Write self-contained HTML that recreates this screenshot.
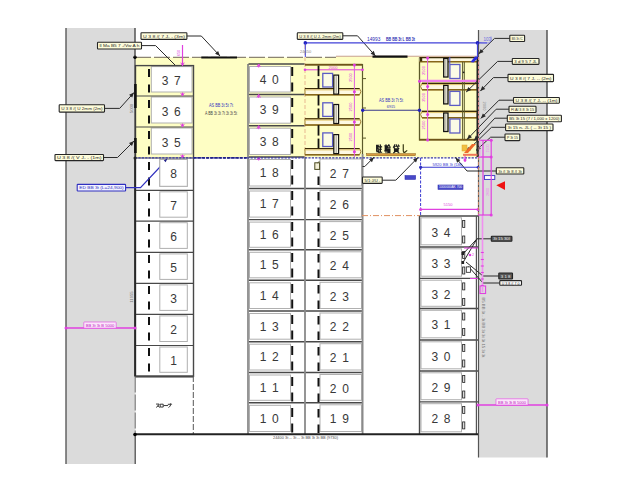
<!DOCTYPE html>
<html><head><meta charset="utf-8"><style>
html,body{margin:0;padding:0;background:#fff;overflow:hidden}
svg{display:block}
text{font-family:"Liberation Sans", sans-serif}
</style></head><body>
<svg width="640" height="498" viewBox="0 0 640 498" font-family='"Liberation Sans", sans-serif'><rect x="0.00" y="0.00" width="640.00" height="498.00" fill="#fff" stroke="none" stroke-width="1" /><rect x="66.00" y="28.00" width="69.50" height="436.00" fill="#dbdbdb" stroke="none" stroke-width="1" /><rect x="478.50" y="30.00" width="68.50" height="427.50" fill="#dbdbdb" stroke="none" stroke-width="1" /><line x1="66.00" y1="28.00" x2="66.00" y2="464.00" stroke="#5a5a5a" stroke-width="1.4" /><line x1="547.00" y1="30.00" x2="547.00" y2="457.50" stroke="#4a4a4a" stroke-width="1.4" /><rect x="135.50" y="57.50" width="342.50" height="100.00" fill="#fefec4" stroke="none" stroke-width="1" /><rect x="336.00" y="56.50" width="142.00" height="1.50" fill="#fefec4" stroke="none" stroke-width="1" /><rect x="151.30" y="66.60" width="40.70" height="25.40" fill="#fff" stroke="#b0b0b0" stroke-width="1" /><text x="165.00" y="85.12" font-size="12" fill="#383838" text-anchor="middle" font-weight="normal" >3</text><text x="177.40" y="85.12" font-size="12" fill="#383838" text-anchor="middle" font-weight="normal" >7</text><rect x="151.30" y="97.00" width="40.70" height="26.00" fill="#fff" stroke="#b0b0b0" stroke-width="1" /><text x="165.00" y="115.82" font-size="12" fill="#383838" text-anchor="middle" font-weight="normal" >3</text><text x="177.40" y="115.82" font-size="12" fill="#383838" text-anchor="middle" font-weight="normal" >6</text><rect x="151.30" y="128.00" width="40.70" height="26.00" fill="#fff" stroke="#b0b0b0" stroke-width="1" /><text x="165.00" y="146.82" font-size="12" fill="#383838" text-anchor="middle" font-weight="normal" >3</text><text x="177.40" y="146.82" font-size="12" fill="#383838" text-anchor="middle" font-weight="normal" >5</text><rect x="159.80" y="159.50" width="27.50" height="26.80" fill="#fff" stroke="#b0b0b0" stroke-width="1" /><text x="173.60" y="178.47" font-size="12" fill="#383838" text-anchor="middle" font-weight="normal" >8</text><rect x="159.80" y="191.80" width="27.50" height="25.40" fill="#fff" stroke="#b0b0b0" stroke-width="1" /><text x="173.60" y="210.07" font-size="12" fill="#383838" text-anchor="middle" font-weight="normal" >7</text><rect x="159.80" y="222.70" width="27.50" height="25.70" fill="#fff" stroke="#b0b0b0" stroke-width="1" /><text x="173.60" y="241.12" font-size="12" fill="#383838" text-anchor="middle" font-weight="normal" >6</text><rect x="159.80" y="253.90" width="27.50" height="25.50" fill="#fff" stroke="#b0b0b0" stroke-width="1" /><text x="173.60" y="272.22" font-size="12" fill="#383838" text-anchor="middle" font-weight="normal" >5</text><rect x="159.80" y="284.90" width="27.50" height="25.50" fill="#fff" stroke="#b0b0b0" stroke-width="1" /><text x="173.60" y="303.22" font-size="12" fill="#383838" text-anchor="middle" font-weight="normal" >3</text><rect x="159.80" y="315.90" width="27.50" height="25.60" fill="#fff" stroke="#b0b0b0" stroke-width="1" /><text x="173.60" y="334.27" font-size="12" fill="#383838" text-anchor="middle" font-weight="normal" >2</text><rect x="159.80" y="347.00" width="27.50" height="25.30" fill="#fff" stroke="#b0b0b0" stroke-width="1" /><text x="173.60" y="365.22" font-size="12" fill="#383838" text-anchor="middle" font-weight="normal" >1</text><line x1="149" y1="69" x2="149" y2="376" stroke="#111" stroke-width="2" stroke-dasharray="8 7.5" stroke-dashoffset="0"/><line x1="135.50" y1="96.00" x2="193.50" y2="96.00" stroke="#484848" stroke-width="1.2" /><line x1="135.50" y1="127.00" x2="193.50" y2="127.00" stroke="#484848" stroke-width="1.2" /><line x1="135.50" y1="158.00" x2="193.50" y2="158.00" stroke="#484848" stroke-width="1.2" /><line x1="135.50" y1="190.30" x2="193.50" y2="190.30" stroke="#484848" stroke-width="1.2" /><line x1="135.50" y1="221.20" x2="193.50" y2="221.20" stroke="#484848" stroke-width="1.2" /><line x1="135.50" y1="252.40" x2="193.50" y2="252.40" stroke="#484848" stroke-width="1.2" /><line x1="135.50" y1="283.40" x2="193.50" y2="283.40" stroke="#484848" stroke-width="1.2" /><line x1="135.50" y1="314.40" x2="193.50" y2="314.40" stroke="#484848" stroke-width="1.2" /><line x1="135.50" y1="345.50" x2="193.50" y2="345.50" stroke="#484848" stroke-width="1.2" /><line x1="135.00" y1="376.40" x2="193.50" y2="376.40" stroke="#333" stroke-width="2" /><rect x="135.50" y="65.60" width="58.00" height="310.70" fill="none" stroke="#484848" stroke-width="1.4" /><line x1="135.00" y1="57.00" x2="135.00" y2="158.00" stroke="#333" stroke-width="1.1" /><line x1="135.00" y1="158.00" x2="135.00" y2="376.50" stroke="#222" stroke-width="1.7" /><line x1="135.20" y1="376.50" x2="135.20" y2="434.00" stroke="#777" stroke-width="1.1" stroke-dasharray="16 2"/><line x1="135.20" y1="434.00" x2="135.20" y2="464.00" stroke="#444" stroke-width="1.2" /><line x1="135.40" y1="84.00" x2="135.40" y2="108.00" stroke="#111" stroke-width="2.6" /><line x1="135.40" y1="138.00" x2="135.40" y2="153.00" stroke="#111" stroke-width="2.6" /><rect x="249.50" y="66.50" width="41.00" height="25.50" fill="#fff" stroke="#b0b0b0" stroke-width="1" /><text x="263.00" y="83.57" font-size="12" fill="#383838" text-anchor="middle" font-weight="normal" >4</text><text x="275.40" y="83.57" font-size="12" fill="#383838" text-anchor="middle" font-weight="normal" >0</text><rect x="249.50" y="97.00" width="41.00" height="26.20" fill="#fff" stroke="#b0b0b0" stroke-width="1" /><text x="263.00" y="114.42" font-size="12" fill="#383838" text-anchor="middle" font-weight="normal" >3</text><text x="275.40" y="114.42" font-size="12" fill="#383838" text-anchor="middle" font-weight="normal" >9</text><rect x="249.50" y="128.20" width="41.00" height="26.30" fill="#fff" stroke="#b0b0b0" stroke-width="1" /><text x="263.00" y="145.67" font-size="12" fill="#383838" text-anchor="middle" font-weight="normal" >3</text><text x="275.40" y="145.67" font-size="12" fill="#383838" text-anchor="middle" font-weight="normal" >8</text><rect x="249.50" y="159.50" width="41.00" height="26.50" fill="#fff" stroke="#b0b0b0" stroke-width="1" /><text x="263.00" y="177.07" font-size="12" fill="#383838" text-anchor="middle" font-weight="normal" >1</text><text x="275.40" y="177.07" font-size="12" fill="#383838" text-anchor="middle" font-weight="normal" >8</text><rect x="249.50" y="191.00" width="41.00" height="26.10" fill="#fff" stroke="#b0b0b0" stroke-width="1" /><text x="263.00" y="208.37" font-size="12" fill="#383838" text-anchor="middle" font-weight="normal" >1</text><text x="275.40" y="208.37" font-size="12" fill="#383838" text-anchor="middle" font-weight="normal" >7</text><rect x="249.50" y="222.10" width="41.00" height="25.20" fill="#fff" stroke="#b0b0b0" stroke-width="1" /><text x="263.00" y="239.02" font-size="12" fill="#383838" text-anchor="middle" font-weight="normal" >1</text><text x="275.40" y="239.02" font-size="12" fill="#383838" text-anchor="middle" font-weight="normal" >6</text><rect x="249.50" y="252.30" width="41.00" height="25.50" fill="#fff" stroke="#b0b0b0" stroke-width="1" /><text x="263.00" y="269.37" font-size="12" fill="#383838" text-anchor="middle" font-weight="normal" >1</text><text x="275.40" y="269.37" font-size="12" fill="#383838" text-anchor="middle" font-weight="normal" >5</text><rect x="249.50" y="282.80" width="41.00" height="25.70" fill="#fff" stroke="#b0b0b0" stroke-width="1" /><text x="263.00" y="299.97" font-size="12" fill="#383838" text-anchor="middle" font-weight="normal" >1</text><text x="275.40" y="299.97" font-size="12" fill="#383838" text-anchor="middle" font-weight="normal" >4</text><rect x="249.50" y="313.50" width="41.00" height="25.70" fill="#fff" stroke="#b0b0b0" stroke-width="1" /><text x="263.00" y="330.67" font-size="12" fill="#383838" text-anchor="middle" font-weight="normal" >1</text><text x="275.40" y="330.67" font-size="12" fill="#383838" text-anchor="middle" font-weight="normal" >3</text><rect x="249.50" y="344.20" width="41.00" height="25.80" fill="#fff" stroke="#b0b0b0" stroke-width="1" /><text x="263.00" y="361.42" font-size="12" fill="#383838" text-anchor="middle" font-weight="normal" >1</text><text x="275.40" y="361.42" font-size="12" fill="#383838" text-anchor="middle" font-weight="normal" >2</text><rect x="249.50" y="375.00" width="41.00" height="25.30" fill="#fff" stroke="#b0b0b0" stroke-width="1" /><text x="263.00" y="391.97" font-size="12" fill="#383838" text-anchor="middle" font-weight="normal" >1</text><text x="275.40" y="391.97" font-size="12" fill="#383838" text-anchor="middle" font-weight="normal" >1</text><rect x="249.50" y="405.30" width="41.00" height="26.20" fill="#fff" stroke="#b0b0b0" stroke-width="1" /><text x="263.00" y="422.72" font-size="12" fill="#383838" text-anchor="middle" font-weight="normal" >1</text><text x="275.40" y="422.72" font-size="12" fill="#383838" text-anchor="middle" font-weight="normal" >0</text><line x1="292.2" y1="67" x2="292.2" y2="434" stroke="#111" stroke-width="2" stroke-dasharray="9 6.5" stroke-dashoffset="0"/><line x1="248.50" y1="94.50" x2="305.00" y2="94.50" stroke="#484848" stroke-width="1.4" /><line x1="248.50" y1="125.70" x2="305.00" y2="125.70" stroke="#484848" stroke-width="1.4" /><line x1="248.50" y1="157.00" x2="305.00" y2="157.00" stroke="#484848" stroke-width="1.4" /><line x1="248.50" y1="188.50" x2="305.00" y2="188.50" stroke="#484848" stroke-width="1.4" /><line x1="248.50" y1="219.60" x2="305.00" y2="219.60" stroke="#484848" stroke-width="1.4" /><line x1="248.50" y1="249.80" x2="305.00" y2="249.80" stroke="#484848" stroke-width="1.4" /><line x1="248.50" y1="280.30" x2="305.00" y2="280.30" stroke="#484848" stroke-width="1.4" /><line x1="248.50" y1="311.00" x2="305.00" y2="311.00" stroke="#484848" stroke-width="1.4" /><line x1="248.50" y1="341.70" x2="305.00" y2="341.70" stroke="#484848" stroke-width="1.4" /><line x1="248.50" y1="372.50" x2="305.00" y2="372.50" stroke="#484848" stroke-width="1.4" /><line x1="248.50" y1="402.80" x2="305.00" y2="402.80" stroke="#484848" stroke-width="1.4" /><line x1="248.00" y1="64.00" x2="248.00" y2="434.00" stroke="#8a8a8a" stroke-width="1.8" /><line x1="248.50" y1="64.00" x2="305.00" y2="64.00" stroke="#484848" stroke-width="1.4" /><rect x="320.00" y="159.00" width="41.50" height="27.00" fill="#fff" stroke="#b0b0b0" stroke-width="1" /><text x="333.10" y="177.77" font-size="12" fill="#383838" text-anchor="middle" font-weight="normal" >2</text><text x="345.50" y="177.77" font-size="12" fill="#383838" text-anchor="middle" font-weight="normal" >7</text><rect x="320.00" y="190.50" width="41.50" height="26.60" fill="#fff" stroke="#b0b0b0" stroke-width="1" /><text x="333.10" y="209.07" font-size="12" fill="#383838" text-anchor="middle" font-weight="normal" >2</text><text x="345.50" y="209.07" font-size="12" fill="#383838" text-anchor="middle" font-weight="normal" >6</text><rect x="320.00" y="221.60" width="41.50" height="25.70" fill="#fff" stroke="#b0b0b0" stroke-width="1" /><text x="333.10" y="239.72" font-size="12" fill="#383838" text-anchor="middle" font-weight="normal" >2</text><text x="345.50" y="239.72" font-size="12" fill="#383838" text-anchor="middle" font-weight="normal" >5</text><rect x="320.00" y="251.80" width="41.50" height="26.00" fill="#fff" stroke="#b0b0b0" stroke-width="1" /><text x="333.10" y="270.07" font-size="12" fill="#383838" text-anchor="middle" font-weight="normal" >2</text><text x="345.50" y="270.07" font-size="12" fill="#383838" text-anchor="middle" font-weight="normal" >4</text><rect x="320.00" y="282.30" width="41.50" height="26.20" fill="#fff" stroke="#b0b0b0" stroke-width="1" /><text x="333.10" y="300.67" font-size="12" fill="#383838" text-anchor="middle" font-weight="normal" >2</text><text x="345.50" y="300.67" font-size="12" fill="#383838" text-anchor="middle" font-weight="normal" >3</text><rect x="320.00" y="313.00" width="41.50" height="26.20" fill="#fff" stroke="#b0b0b0" stroke-width="1" /><text x="333.10" y="331.37" font-size="12" fill="#383838" text-anchor="middle" font-weight="normal" >2</text><text x="345.50" y="331.37" font-size="12" fill="#383838" text-anchor="middle" font-weight="normal" >2</text><rect x="320.00" y="343.70" width="41.50" height="26.30" fill="#fff" stroke="#b0b0b0" stroke-width="1" /><text x="333.10" y="362.12" font-size="12" fill="#383838" text-anchor="middle" font-weight="normal" >2</text><text x="345.50" y="362.12" font-size="12" fill="#383838" text-anchor="middle" font-weight="normal" >1</text><rect x="320.00" y="374.50" width="41.50" height="25.80" fill="#fff" stroke="#b0b0b0" stroke-width="1" /><text x="333.10" y="392.67" font-size="12" fill="#383838" text-anchor="middle" font-weight="normal" >2</text><text x="345.50" y="392.67" font-size="12" fill="#383838" text-anchor="middle" font-weight="normal" >0</text><rect x="320.00" y="404.80" width="41.50" height="26.70" fill="#fff" stroke="#b0b0b0" stroke-width="1" /><text x="333.10" y="423.42" font-size="12" fill="#383838" text-anchor="middle" font-weight="normal" >1</text><text x="345.50" y="423.42" font-size="12" fill="#383838" text-anchor="middle" font-weight="normal" >9</text><line x1="318.5" y1="176.5" x2="318.5" y2="434" stroke="#111" stroke-width="2" stroke-dasharray="8.5 7" stroke-dashoffset="0"/><rect x="314.80" y="162.80" width="4.80" height="6.60" fill="#f4f0d8" stroke="#4a4a20" stroke-width="1" /><line x1="317.50" y1="162.80" x2="319.60" y2="161.40" stroke="#4a4a20" stroke-width="0.8" /><line x1="305.00" y1="188.50" x2="362.00" y2="188.50" stroke="#484848" stroke-width="1.4" /><line x1="305.00" y1="219.60" x2="362.00" y2="219.60" stroke="#484848" stroke-width="1.4" /><line x1="305.00" y1="249.80" x2="362.00" y2="249.80" stroke="#484848" stroke-width="1.4" /><line x1="305.00" y1="280.30" x2="362.00" y2="280.30" stroke="#484848" stroke-width="1.4" /><line x1="305.00" y1="311.00" x2="362.00" y2="311.00" stroke="#484848" stroke-width="1.4" /><line x1="305.00" y1="341.70" x2="362.00" y2="341.70" stroke="#484848" stroke-width="1.4" /><line x1="305.00" y1="372.50" x2="362.00" y2="372.50" stroke="#484848" stroke-width="1.4" /><line x1="305.00" y1="402.80" x2="362.00" y2="402.80" stroke="#484848" stroke-width="1.4" /><line x1="305.00" y1="157.00" x2="305.00" y2="434.00" stroke="#8a8a8a" stroke-width="1.8" /><line x1="362.60" y1="154.00" x2="362.60" y2="434.00" stroke="#8a8a8a" stroke-width="1.8" /><rect x="421.00" y="217.80" width="40.50" height="27.00" fill="#fff" stroke="#b0b0b0" stroke-width="1" /><text x="434.80" y="236.62" font-size="12" fill="#383838" text-anchor="middle" font-weight="normal" >3</text><text x="447.20" y="236.62" font-size="12" fill="#383838" text-anchor="middle" font-weight="normal" >4</text><rect x="462.60" y="220.50" width="2.20" height="7.00" fill="#ddd" stroke="#222" stroke-width="0.8" /><rect x="462.60" y="236.00" width="2.20" height="7.00" fill="#ddd" stroke="#222" stroke-width="0.8" /><rect x="421.00" y="248.80" width="40.50" height="27.40" fill="#fff" stroke="#b0b0b0" stroke-width="1" /><text x="434.80" y="267.82" font-size="12" fill="#383838" text-anchor="middle" font-weight="normal" >3</text><text x="447.20" y="267.82" font-size="12" fill="#383838" text-anchor="middle" font-weight="normal" >3</text><rect x="462.60" y="251.50" width="2.20" height="7.00" fill="#ddd" stroke="#222" stroke-width="0.8" /><rect x="462.60" y="267.00" width="2.20" height="7.00" fill="#ddd" stroke="#222" stroke-width="0.8" /><rect x="421.00" y="280.20" width="40.50" height="26.10" fill="#fff" stroke="#b0b0b0" stroke-width="1" /><text x="434.80" y="298.57" font-size="12" fill="#383838" text-anchor="middle" font-weight="normal" >3</text><text x="447.20" y="298.57" font-size="12" fill="#383838" text-anchor="middle" font-weight="normal" >2</text><rect x="462.60" y="282.90" width="2.20" height="7.00" fill="#ddd" stroke="#222" stroke-width="0.8" /><rect x="462.60" y="298.40" width="2.20" height="7.00" fill="#ddd" stroke="#222" stroke-width="0.8" /><rect x="421.00" y="310.30" width="40.50" height="27.50" fill="#fff" stroke="#b0b0b0" stroke-width="1" /><text x="434.80" y="329.37" font-size="12" fill="#383838" text-anchor="middle" font-weight="normal" >3</text><text x="447.20" y="329.37" font-size="12" fill="#383838" text-anchor="middle" font-weight="normal" >1</text><rect x="462.60" y="313.00" width="2.20" height="7.00" fill="#ddd" stroke="#222" stroke-width="0.8" /><rect x="462.60" y="328.50" width="2.20" height="7.00" fill="#ddd" stroke="#222" stroke-width="0.8" /><rect x="421.00" y="341.80" width="40.50" height="27.00" fill="#fff" stroke="#b0b0b0" stroke-width="1" /><text x="434.80" y="360.62" font-size="12" fill="#383838" text-anchor="middle" font-weight="normal" >3</text><text x="447.20" y="360.62" font-size="12" fill="#383838" text-anchor="middle" font-weight="normal" >0</text><rect x="462.60" y="344.50" width="2.20" height="7.00" fill="#ddd" stroke="#222" stroke-width="0.8" /><rect x="462.60" y="360.00" width="2.20" height="7.00" fill="#ddd" stroke="#222" stroke-width="0.8" /><rect x="421.00" y="372.80" width="40.50" height="26.90" fill="#fff" stroke="#b0b0b0" stroke-width="1" /><text x="434.80" y="391.57" font-size="12" fill="#383838" text-anchor="middle" font-weight="normal" >2</text><text x="447.20" y="391.57" font-size="12" fill="#383838" text-anchor="middle" font-weight="normal" >9</text><rect x="462.60" y="375.50" width="2.20" height="7.00" fill="#ddd" stroke="#222" stroke-width="0.8" /><rect x="462.60" y="391.00" width="2.20" height="7.00" fill="#ddd" stroke="#222" stroke-width="0.8" /><rect x="421.00" y="403.70" width="40.50" height="28.10" fill="#fff" stroke="#b0b0b0" stroke-width="1" /><text x="434.80" y="423.07" font-size="12" fill="#383838" text-anchor="middle" font-weight="normal" >2</text><text x="447.20" y="423.07" font-size="12" fill="#383838" text-anchor="middle" font-weight="normal" >8</text><rect x="462.60" y="406.40" width="2.20" height="7.00" fill="#ddd" stroke="#222" stroke-width="0.8" /><rect x="462.60" y="421.90" width="2.20" height="7.00" fill="#ddd" stroke="#222" stroke-width="0.8" /><line x1="419.50" y1="247.00" x2="478.00" y2="247.00" stroke="#484848" stroke-width="1.4" /><line x1="419.50" y1="278.40" x2="478.00" y2="278.40" stroke="#484848" stroke-width="1.4" /><line x1="419.50" y1="308.50" x2="478.00" y2="308.50" stroke="#484848" stroke-width="1.4" /><line x1="419.50" y1="340.00" x2="478.00" y2="340.00" stroke="#484848" stroke-width="1.4" /><line x1="419.50" y1="371.00" x2="478.00" y2="371.00" stroke="#484848" stroke-width="1.4" /><line x1="419.50" y1="401.90" x2="478.00" y2="401.90" stroke="#484848" stroke-width="1.4" /><line x1="419.50" y1="216.00" x2="419.50" y2="434.00" stroke="#484848" stroke-width="1.4" /><line x1="419.50" y1="216.00" x2="478.00" y2="216.00" stroke="#484848" stroke-width="1.6" /><line x1="476.40" y1="216.00" x2="476.40" y2="434.00" stroke="#555" stroke-width="1.2" /><line x1="478.50" y1="30.00" x2="478.50" y2="457.50" stroke="#555" stroke-width="1.2" /><line x1="135.00" y1="57.30" x2="336.00" y2="57.30" stroke="#8c8472" stroke-width="1.2" stroke-dasharray="16 3"/><line x1="336.00" y1="56.20" x2="478.00" y2="56.20" stroke="#c8a08a" stroke-width="1.1" /><line x1="201.30" y1="57.50" x2="237.00" y2="57.50" stroke="#111" stroke-width="2.2" /><line x1="372.50" y1="56.70" x2="407.50" y2="56.70" stroke="#111" stroke-width="2.2" /><circle cx="135.00" cy="57.30" r="1.7" fill="#000"/><line x1="135.00" y1="28.00" x2="135.00" y2="57.00" stroke="#333" stroke-width="1.2" /><line x1="182.50" y1="45.00" x2="182.50" y2="65.60" stroke="#e040e0" stroke-width="1.2" /><text x="0" y="0" font-size="4" fill="#e040e0" transform="translate(180,53) rotate(-90)" text-anchor="middle">650</text><path d="M180.8,62.599999999999994 L182.5,65.6 L184.2,62.599999999999994" stroke="#e040e0" stroke-width="1" fill="none"/><line x1="182.50" y1="62.10" x2="182.50" y2="65.60" stroke="#e040e0" stroke-width="1" /><path d="M180.8,93 L182.5,96 L184.2,93" stroke="#e040e0" stroke-width="1" fill="none"/><line x1="182.50" y1="92.50" x2="182.50" y2="96.00" stroke="#e040e0" stroke-width="1" /><path d="M180.8,124 L182.5,127 L184.2,124" stroke="#e040e0" stroke-width="1" fill="none"/><line x1="182.50" y1="123.50" x2="182.50" y2="127.00" stroke="#e040e0" stroke-width="1" /><path d="M180.8,155 L182.5,158 L184.2,155" stroke="#e040e0" stroke-width="1" fill="none"/><line x1="182.50" y1="154.50" x2="182.50" y2="158.00" stroke="#e040e0" stroke-width="1" /><path d="M257,67 L258.7,64 L260.4,67" stroke="#e040e0" stroke-width="1" fill="none"/><line x1="258.70" y1="64.00" x2="258.70" y2="67.50" stroke="#e040e0" stroke-width="1" /><path d="M257,97.5 L258.7,94.5 L260.4,97.5" stroke="#e040e0" stroke-width="1" fill="none"/><line x1="258.70" y1="94.50" x2="258.70" y2="98.00" stroke="#e040e0" stroke-width="1" /><path d="M257,128.7 L258.7,125.7 L260.4,128.7" stroke="#e040e0" stroke-width="1" fill="none"/><line x1="258.70" y1="125.70" x2="258.70" y2="129.20" stroke="#e040e0" stroke-width="1" /><path d="M257,160 L258.7,157 L260.4,160" stroke="#e040e0" stroke-width="1" fill="none"/><line x1="258.70" y1="157.00" x2="258.70" y2="160.50" stroke="#e040e0" stroke-width="1" /><line x1="305.00" y1="45.00" x2="305.00" y2="157.00" stroke="#e8b890" stroke-width="1" stroke-dasharray="4 2"/><rect x="305.00" y="63.80" width="57.50" height="1.90" fill="#6e5418" stroke="none" stroke-width="1" /><path d="M305,88.5 L359.5,88.5 Q362.3,91.65 359.5,94.8 L305,94.8 Z" fill="#fdf9e2" stroke="#a08030" stroke-width="1"/><line x1="305.00" y1="88.60" x2="359.50" y2="88.60" stroke="#3a2c08" stroke-width="1.3" /><line x1="305.00" y1="89.90" x2="360.00" y2="89.90" stroke="#e2c468" stroke-width="1" /><line x1="305.00" y1="94.80" x2="359.50" y2="94.80" stroke="#86661a" stroke-width="1.4" /><path d="M305,118.7 L359.5,118.7 Q362.3,121.85000000000001 359.5,125.0 L305,125.0 Z" fill="#fdf9e2" stroke="#a08030" stroke-width="1"/><line x1="305.00" y1="118.80" x2="359.50" y2="118.80" stroke="#3a2c08" stroke-width="1.3" /><line x1="305.00" y1="120.10" x2="360.00" y2="120.10" stroke="#e2c468" stroke-width="1" /><line x1="305.00" y1="125.00" x2="359.50" y2="125.00" stroke="#86661a" stroke-width="1.4" /><path d="M305,148.5 L359.5,148.5 Q362.3,151.65 359.5,154.8 L305,154.8 Z" fill="#fdf9e2" stroke="#a08030" stroke-width="1"/><line x1="305.00" y1="148.60" x2="359.50" y2="148.60" stroke="#3a2c08" stroke-width="1.3" /><line x1="305.00" y1="149.90" x2="360.00" y2="149.90" stroke="#e2c468" stroke-width="1" /><line x1="305.00" y1="154.80" x2="359.50" y2="154.80" stroke="#86661a" stroke-width="1.4" /><line x1="362.50" y1="64.00" x2="362.50" y2="154.00" stroke="#5c5a2a" stroke-width="1.2" /><line x1="305.00" y1="69.80" x2="362.50" y2="69.80" stroke="#e040e0" stroke-width="1" /><circle cx="305.00" cy="69.80" r="1.3" fill="#e040e0"/><circle cx="362.50" cy="69.80" r="1.3" fill="#e040e0"/><text x="333" y="68.5" font-size="4" fill="#e040e0" text-anchor="middle">2000</text><line x1="354.40" y1="64.00" x2="354.40" y2="157.00" stroke="#e060e0" stroke-width="1" /><circle cx="354.40" cy="65.00" r="1.5" fill="#e040e0"/><circle cx="354.40" cy="91.70" r="1.5" fill="#e040e0"/><circle cx="354.40" cy="121.90" r="1.5" fill="#e040e0"/><circle cx="354.40" cy="151.70" r="1.5" fill="#e040e0"/><line x1="318.50" y1="65.60" x2="318.50" y2="76.10" stroke="#111" stroke-width="1.8" /><line x1="318.50" y1="79.10" x2="318.50" y2="88.60" stroke="#111" stroke-width="1.8" /><rect x="322.80" y="73.40" width="9.80" height="13.60" fill="#fbfbe6" stroke="#5c5cc4" stroke-width="1.3" /><rect x="333.80" y="75.10" width="4.80" height="19.00" fill="#f8f6e0" stroke="#111" stroke-width="1.2" /><line x1="336.20" y1="75.60" x2="336.20" y2="93.60" stroke="#666" stroke-width="0.6" /><text x="0" y="0" font-size="4" fill="#e040e0" transform="translate(351.5,77.6) rotate(-90)" text-anchor="middle">2500</text><line x1="362.50" y1="78.60" x2="366.00" y2="78.60" stroke="#5c5a2a" stroke-width="1" /><line x1="318.50" y1="95.00" x2="318.50" y2="105.50" stroke="#111" stroke-width="1.8" /><line x1="318.50" y1="108.50" x2="318.50" y2="118.00" stroke="#111" stroke-width="1.8" /><rect x="322.80" y="102.80" width="9.80" height="13.60" fill="#fbfbe6" stroke="#5c5cc4" stroke-width="1.3" /><rect x="333.80" y="104.50" width="4.80" height="19.00" fill="#f8f6e0" stroke="#111" stroke-width="1.2" /><line x1="336.20" y1="105.00" x2="336.20" y2="123.00" stroke="#666" stroke-width="0.6" /><text x="0" y="0" font-size="4" fill="#e040e0" transform="translate(351.5,107) rotate(-90)" text-anchor="middle">2500</text><line x1="362.50" y1="108.00" x2="366.00" y2="108.00" stroke="#5c5a2a" stroke-width="1" /><line x1="318.50" y1="125.10" x2="318.50" y2="135.60" stroke="#111" stroke-width="1.8" /><line x1="318.50" y1="138.60" x2="318.50" y2="148.10" stroke="#111" stroke-width="1.8" /><rect x="322.80" y="132.90" width="9.80" height="13.60" fill="#fbfbe6" stroke="#5c5cc4" stroke-width="1.3" /><rect x="333.80" y="134.60" width="4.80" height="19.00" fill="#f8f6e0" stroke="#111" stroke-width="1.2" /><line x1="336.20" y1="135.10" x2="336.20" y2="153.10" stroke="#666" stroke-width="0.6" /><text x="0" y="0" font-size="4" fill="#e040e0" transform="translate(351.5,137.1) rotate(-90)" text-anchor="middle">2500</text><line x1="362.50" y1="138.10" x2="366.00" y2="138.10" stroke="#5c5a2a" stroke-width="1" /><line x1="419.50" y1="57.50" x2="419.50" y2="140.60" stroke="#5c5a2a" stroke-width="1.3" /><path d="M422.0,83.2 L477,83.2 L477,89.8 L422.0,89.8 Q419.2,86.5 422.0,83.2 Z" fill="#fdf9e2" stroke="#a08030" stroke-width="1"/><line x1="422.00" y1="83.30" x2="477.00" y2="83.30" stroke="#3a2c08" stroke-width="1.3" /><line x1="421.50" y1="84.60" x2="477.00" y2="84.60" stroke="#e2c468" stroke-width="1" /><line x1="422.00" y1="89.80" x2="477.00" y2="89.80" stroke="#86661a" stroke-width="1.4" /><path d="M422.0,111.2 L477,111.2 L477,117.8 L422.0,117.8 Q419.2,114.5 422.0,111.2 Z" fill="#fdf9e2" stroke="#a08030" stroke-width="1"/><line x1="422.00" y1="111.30" x2="477.00" y2="111.30" stroke="#3a2c08" stroke-width="1.3" /><line x1="421.50" y1="112.60" x2="477.00" y2="112.60" stroke="#e2c468" stroke-width="1" /><line x1="422.00" y1="117.80" x2="477.00" y2="117.80" stroke="#86661a" stroke-width="1.4" /><rect x="419.50" y="57.60" width="57.50" height="4.30" fill="#fdf9e2" stroke="none" stroke-width="1" /><line x1="419.50" y1="57.70" x2="477.00" y2="57.70" stroke="#3a2c08" stroke-width="1.2" /><line x1="419.50" y1="61.70" x2="477.00" y2="61.70" stroke="#86661a" stroke-width="1.5" /><rect x="419.80" y="58.00" width="2.40" height="3.40" fill="#3a2c08" stroke="none" stroke-width="1" /><rect x="419.50" y="138.80" width="58.50" height="1.90" fill="#6e5418" stroke="none" stroke-width="1" /><line x1="462.60" y1="62.00" x2="462.60" y2="139.00" stroke="#5c5a2a" stroke-width="1" /><line x1="464.30" y1="62.00" x2="464.30" y2="139.00" stroke="#5c5a2a" stroke-width="1" /><line x1="427.60" y1="57.00" x2="427.60" y2="140.00" stroke="#e060e0" stroke-width="1" /><circle cx="427.60" cy="58.00" r="1.5" fill="#e040e0"/><circle cx="427.60" cy="86.50" r="1.5" fill="#e040e0"/><circle cx="427.60" cy="114.50" r="1.5" fill="#e040e0"/><circle cx="427.60" cy="140.00" r="1.5" fill="#e040e0"/><line x1="419.50" y1="80.90" x2="478.00" y2="80.90" stroke="#ee80ee" stroke-width="2.4" /><circle cx="419.50" cy="81.20" r="1.5" fill="#e040e0"/><circle cx="478.00" cy="81.20" r="1.5" fill="#e040e0"/><rect x="443.70" y="58.50" width="4.30" height="18.50" fill="#f8f6e0" stroke="#111" stroke-width="1.3" /><line x1="445.80" y1="59.50" x2="445.80" y2="76.00" stroke="#777" stroke-width="0.6" /><rect x="449.90" y="64.50" width="10.00" height="14.00" fill="#fbfbe6" stroke="#5c5cc4" stroke-width="1.3" /><text x="0" y="0" font-size="4" fill="#e040e0" transform="translate(424.5,70.5) rotate(-90)" text-anchor="middle">2500</text><rect x="443.70" y="85.40" width="4.30" height="18.50" fill="#f8f6e0" stroke="#111" stroke-width="1.3" /><line x1="445.80" y1="86.40" x2="445.80" y2="102.90" stroke="#777" stroke-width="0.6" /><rect x="449.90" y="91.40" width="10.00" height="14.00" fill="#fbfbe6" stroke="#5c5cc4" stroke-width="1.3" /><text x="0" y="0" font-size="4" fill="#e040e0" transform="translate(424.5,97.4) rotate(-90)" text-anchor="middle">2500</text><rect x="443.70" y="113.00" width="4.30" height="18.50" fill="#f8f6e0" stroke="#111" stroke-width="1.3" /><line x1="445.80" y1="114.00" x2="445.80" y2="130.50" stroke="#777" stroke-width="0.6" /><rect x="449.90" y="119.00" width="10.00" height="14.00" fill="#fbfbe6" stroke="#5c5cc4" stroke-width="1.3" /><text x="0" y="0" font-size="4" fill="#e040e0" transform="translate(424.5,125) rotate(-90)" text-anchor="middle">2500</text><line x1="477.30" y1="57.00" x2="477.30" y2="157.00" stroke="#222" stroke-width="1.6" /><rect x="366.50" y="153.70" width="49.00" height="2.00" fill="#d89a40" stroke="#8a5a10" stroke-width="0.5" /><g transform="translate(376,144.8) scale(0.5600,0.8000)"><path d="M1,0.5 V7 M1,0.5 H5 M3,0.5 V5.5 M1,2.2 H5 M1,3.9 H5 M1,5.6 H5.3 V9.5 L4.3,9.2 M1.4,7.6 V8.6 M2.7,7.6 V8.6 M4,7.6 V8.6 M7.8,0.2 L8.3,1.4 M6,2.6 H10 M6.5,5.6 H9.6 M6,9.3 H10 M8,2.6 V9.3" fill="none" stroke="#1c1c1c" stroke-width="1.05" vector-effect="non-scaling-stroke" stroke-linecap="square"/></g><g transform="translate(384.6,144.8) scale(0.5600,0.8000)"><path d="M0.5,1.2 H4.5 M1,2.6 H4 V6 H1 Z M1,4.3 H4 M0.3,7.6 H4.7 M2.5,0 V10 M7.6,0 L5,3.2 M7.6,0 L10,3.2 M6,3.8 H9.2 M5.6,5.2 H9.6 V9.8 M5.6,5.2 V10 M6.9,5.2 V9.6 M8.3,5.2 V9.6 M5.6,7.4 H9.6" fill="none" stroke="#1c1c1c" stroke-width="1.05" vector-effect="non-scaling-stroke" stroke-linecap="square"/></g><g transform="translate(393.2,144.8) scale(0.6200,0.8000)"><path d="M2.6,0 L0.4,3.2 M1.8,1.6 V4.6 M3.4,1.9 H9.6 M5.2,0 Q6,3 9,4.6 M8.4,0.2 L9,1 M2,4.9 H8 V8.4 H2 Z M2,6.1 H8 M2,7.3 H8 M3.6,8.6 L0.8,10 M6.4,8.6 L9.2,10" fill="none" stroke="#1c1c1c" stroke-width="1.05" vector-effect="non-scaling-stroke" stroke-linecap="square"/></g><g transform="translate(401.6,144.8) scale(0.5600,0.8000)"><path d="M3,0 V7.2 Q3,9.8 5.6,9.4 L9.2,7.4" fill="none" stroke="#3a3a14" stroke-width="1.2" vector-effect="non-scaling-stroke" stroke-linecap="square"/></g><line x1="135.00" y1="157.80" x2="478.00" y2="157.80" stroke="#3838a4" stroke-width="1.2" stroke-dasharray="2.2 1.2"/><line x1="193.50" y1="157.80" x2="248.00" y2="157.80" stroke="#222288" stroke-width="1.8" stroke-dasharray="3 1.2"/><circle cx="135.00" cy="158.00" r="1.5" fill="#222"/><rect x="97.50" y="42.30" width="44.00" height="6.70" fill="#fdfcda" stroke="#262626" stroke-width="1.1" rx="0.6"/><text x="99.50" y="47.25" font-size="4.2" fill="#2a2a2a" text-anchor="start" font-weight="normal" textLength="40.0" lengthAdjust="spacingAndGlyphs">ll Ma B5 7 -/Vw A h</text><polyline points="141.50,45.60 155.60,45.60 175.00,65.00" stroke="#2a2a2a" stroke-width="1" fill="none" /><rect x="141.00" y="32.80" width="45.90" height="6.60" fill="#fdfcda" stroke="#262626" stroke-width="1.1" rx="0.6"/><text x="143.00" y="37.70" font-size="4.2" fill="#2a2a2a" text-anchor="start" font-weight="normal" textLength="41.9" lengthAdjust="spacingAndGlyphs">U 3 8 /( 7 J- - (3m)</text><polyline points="186.90,36.00 201.30,36.00 220.00,56.00" stroke="#2a2a2a" stroke-width="1" fill="none" /><path d="M220.00,56.00 L215.05,53.78 L218.12,50.91 Z" fill="#2a2a2a"/><rect x="297.30" y="32.80" width="45.50" height="6.60" fill="#fdfcda" stroke="#262626" stroke-width="1.1" rx="0.6"/><text x="299.30" y="37.70" font-size="4.2" fill="#2a2a2a" text-anchor="start" font-weight="normal" textLength="41.5" lengthAdjust="spacingAndGlyphs">U 3 8 /( U J- 2mm (2m)</text><polyline points="342.80,35.80 357.50,35.80 375.50,56.00" stroke="#2a2a2a" stroke-width="1" fill="none" /><path d="M375.50,56.00 L370.61,53.66 L373.74,50.87 Z" fill="#2a2a2a"/><rect x="59.20" y="104.80" width="45.30" height="7.30" fill="#fdfcda" stroke="#262626" stroke-width="1.1" rx="0.6"/><text x="61.20" y="110.05" font-size="4.2" fill="#2a2a2a" text-anchor="start" font-weight="normal" textLength="41.3" lengthAdjust="spacingAndGlyphs">U 3 8 /( U 2mm (2m)</text><polyline points="104.50,108.40 119.70,108.40 134.00,92.50" stroke="#2a2a2a" stroke-width="1" fill="none" /><path d="M134.00,92.50 L132.22,97.62 L129.10,94.81 Z" fill="#2a2a2a"/><rect x="55.00" y="154.50" width="48.50" height="6.10" fill="#fdfcda" stroke="#262626" stroke-width="1.1" rx="0.6"/><text x="57.00" y="159.15" font-size="4.2" fill="#2a2a2a" text-anchor="start" font-weight="normal" textLength="44.5" lengthAdjust="spacingAndGlyphs">U 3 8 /( V J- - (1m)</text><polyline points="103.50,157.50 117.50,157.50 134.00,141.00" stroke="#2a2a2a" stroke-width="1" fill="none" /><path d="M134.00,141.00 L131.95,146.02 L128.98,143.05 Z" fill="#2a2a2a"/><rect x="77.20" y="184.40" width="48.40" height="6.60" fill="#f2f2ff" stroke="#3030c0" stroke-width="1.1" rx="0.6"/><text x="79.20" y="189.30" font-size="4.2" fill="#3030c0" text-anchor="start" font-weight="normal" textLength="44.4" lengthAdjust="spacingAndGlyphs">ED BB 3t (L=24,900)</text><polyline points="125.60,187.60 140.50,187.60 167.00,159.50" stroke="#3030c0" stroke-width="1.2" fill="none" /><rect x="159.80" y="159.50" width="27.50" height="26.80" fill="#fff" stroke="#b0b0b0" stroke-width="1" /><text x="173.60" y="178.47" font-size="12" fill="#383838" text-anchor="middle" font-weight="normal" >8</text><path d="M167.5,158.6 L163.8,160.2 L165.6,162.2 Z" fill="#222288"/><rect x="509.80" y="35.30" width="14.80" height="6.20" fill="#fdfcda" stroke="#262626" stroke-width="1.1" rx="0.6"/><text x="511.80" y="40.00" font-size="4.2" fill="#2a2a2a" text-anchor="start" font-weight="normal" textLength="10.8" lengthAdjust="spacingAndGlyphs">B5 3t /C</text><polyline points="509.80,38.40 494.50,38.40 478.60,54.00" stroke="#2a2a2a" stroke-width="1" fill="none" /><path d="M478.60,54.00 L480.70,49.00 L483.64,52.00 Z" fill="#2a2a2a"/><rect x="512.30" y="58.50" width="26.70" height="5.90" fill="#fdfcda" stroke="#262626" stroke-width="1.1" rx="0.6"/><text x="514.30" y="63.05" font-size="4.2" fill="#2a2a2a" text-anchor="start" font-weight="normal" textLength="22.7" lengthAdjust="spacingAndGlyphs">3 d 9 5 7 JL</text><polyline points="512.30,61.40 497.60,61.40 466.20,92.00" stroke="#2a2a2a" stroke-width="1" fill="none" /><path d="M466.20,92.00 L468.32,87.01 L471.25,90.01 Z" fill="#2a2a2a"/><rect x="508.00" y="74.40" width="45.50" height="7.20" fill="#fdfcda" stroke="#262626" stroke-width="1.1" rx="0.6"/><text x="510.00" y="79.60" font-size="4.2" fill="#2a2a2a" text-anchor="start" font-weight="normal" textLength="41.5" lengthAdjust="spacingAndGlyphs">U 3 8 /( 7 J- -- (2m)</text><polyline points="508.00,77.60 493.40,77.60 480.30,91.10" stroke="#2a2a2a" stroke-width="1" fill="none" /><path d="M480.30,91.10 L482.27,86.05 L485.29,88.97 Z" fill="#2a2a2a"/><rect x="513.50" y="97.50" width="45.90" height="5.70" fill="#fdfcda" stroke="#262626" stroke-width="1.1" rx="0.6"/><text x="515.50" y="101.95" font-size="4.2" fill="#2a2a2a" text-anchor="start" font-weight="normal" textLength="41.9" lengthAdjust="spacingAndGlyphs">U 3 8 /( 7 J- -- (1m)</text><polyline points="513.50,100.20 499.00,100.20 480.80,118.40" stroke="#2a2a2a" stroke-width="1" fill="none" /><path d="M480.80,118.40 L482.85,113.38 L485.82,116.35 Z" fill="#2a2a2a"/><rect x="509.00" y="106.30" width="27.00" height="6.20" fill="#fdfcda" stroke="#262626" stroke-width="1.1" rx="0.6"/><text x="511.00" y="111.00" font-size="4.2" fill="#2a2a2a" text-anchor="start" font-weight="normal" textLength="23.0" lengthAdjust="spacingAndGlyphs">Fl Al 3 8 3t 15</text><polyline points="509.00,109.20 496.20,109.20 467.00,139.50" stroke="#2a2a2a" stroke-width="1" fill="none" /><path d="M467.00,139.50 L468.96,134.44 L471.98,137.36 Z" fill="#2a2a2a"/><rect x="507.30" y="115.30" width="54.10" height="6.50" fill="#fdfcda" stroke="#262626" stroke-width="1.1" rx="0.6"/><text x="509.30" y="120.15" font-size="4.2" fill="#2a2a2a" text-anchor="start" font-weight="normal" textLength="50.1" lengthAdjust="spacingAndGlyphs">B5 3t 15 (7 / 1,000 x 1200)</text><polyline points="507.30,118.20 494.80,118.20 474.00,140.50" stroke="#2a2a2a" stroke-width="1" fill="none" /><path d="M474.00,140.50 L475.87,135.41 L478.95,138.28 Z" fill="#2a2a2a"/><rect x="505.60" y="124.00" width="47.40" height="6.60" fill="#fdfcda" stroke="#262626" stroke-width="1.1" rx="0.6"/><text x="507.60" y="128.90" font-size="4.2" fill="#2a2a2a" text-anchor="start" font-weight="normal" textLength="43.4" lengthAdjust="spacingAndGlyphs">3t 15 n- JL ( -- 3t 15 )</text><polyline points="505.60,127.30 491.50,127.30 466.00,152.00" stroke="#2a2a2a" stroke-width="1" fill="none" /><path d="M466.00,152.00 L468.13,147.01 L471.05,150.03 Z" fill="#2a2a2a"/><rect x="505.00" y="134.00" width="14.80" height="6.60" fill="#fdfcda" stroke="#262626" stroke-width="1.1" rx="0.6"/><text x="507.00" y="138.90" font-size="4.2" fill="#2a2a2a" text-anchor="start" font-weight="normal" textLength="10.8" lengthAdjust="spacingAndGlyphs">P 3t 15</text><polyline points="505.00,137.20 490.60,137.20 476.00,150.50" stroke="#2a2a2a" stroke-width="1" fill="none" /><path d="M476.00,150.50 L478.28,145.58 L481.11,148.69 Z" fill="#2a2a2a"/><rect x="496.30" y="167.80" width="27.50" height="6.20" fill="#fdfcda" stroke="#262626" stroke-width="1.1" rx="0.6"/><text x="498.30" y="172.50" font-size="4.2" fill="#2a2a2a" text-anchor="start" font-weight="normal" textLength="23.5" lengthAdjust="spacingAndGlyphs">3t /l 3t 8 /l 3t</text><polyline points="496.30,171.00 467.00,171.00 455.50,157.50" stroke="#2a2a2a" stroke-width="1" fill="none" /><path d="M455.50,157.50 L460.34,159.94 L457.14,162.67 Z" fill="#2a2a2a"/><rect x="491.30" y="236.30" width="20.60" height="5.00" fill="#555" stroke="#222" stroke-width="1.1" rx="0.6"/><text x="493.30" y="240.40" font-size="4.2" fill="#eee" text-anchor="start" font-weight="normal" textLength="16.6" lengthAdjust="spacingAndGlyphs">3t 15 30I</text><polyline points="491.30,238.80 477.00,238.80 463.00,254.00" stroke="#2a2a2a" stroke-width="1" fill="none" /><polyline points="477.00,238.80 463.00,262.50" stroke="#2a2a2a" stroke-width="1" fill="none" /><rect x="461.50" y="252.00" width="2.60" height="3.00" fill="#222" stroke="none" stroke-width="1" /><rect x="461.50" y="261.00" width="2.60" height="3.00" fill="#222" stroke="none" stroke-width="1" /><rect x="498.80" y="273.00" width="13.70" height="6.00" fill="#555" stroke="#222" stroke-width="1.1" rx="0.6"/><text x="500.80" y="277.60" font-size="4.2" fill="#eee" text-anchor="start" font-weight="normal" textLength="9.7" lengthAdjust="spacingAndGlyphs">3 1 8</text><polyline points="498.80,276.00 483.00,276.00 466.00,262.00" stroke="#2a2a2a" stroke-width="1" fill="none" /><rect x="499.80" y="280.60" width="21.70" height="4.70" fill="#fff" stroke="#262626" stroke-width="1.1" rx="0.6"/><text x="501.80" y="284.55" font-size="4.2" fill="#2a2a2a" text-anchor="start" font-weight="normal" textLength="17.7" lengthAdjust="spacingAndGlyphs">U 3 8 /( 7 0</text><polyline points="499.80,283.00 483.00,283.00 468.50,266.50" stroke="#2a2a2a" stroke-width="1" fill="none" /><rect x="466.30" y="266.90" width="4.30" height="5.40" fill="#fff" stroke="#222" stroke-width="0.8" /><rect x="480.00" y="286.00" width="5.60" height="7.50" fill="none" stroke="#e040e0" stroke-width="1.1" /><line x1="470.00" y1="278.50" x2="478.00" y2="278.50" stroke="#e040e0" stroke-width="1" /><line x1="464.00" y1="248.00" x2="478.00" y2="248.00" stroke="#e040e0" stroke-width="1" /><circle cx="470.00" cy="255.00" r="1.3" fill="#e040e0"/><text x="472.00" y="256.00" font-size="3.5" fill="#e040e0" text-anchor="start" font-weight="normal" >2</text><line x1="66.00" y1="328.00" x2="135.00" y2="328.00" stroke="#e040e0" stroke-width="1.4" /><circle cx="66.00" cy="328.00" r="1.5" fill="#e040e0"/><circle cx="135.00" cy="328.00" r="1.5" fill="#e040e0"/><rect x="83.80" y="322.00" width="32.40" height="6.20" fill="#fbe6fb" stroke="#e040e0" stroke-width="0.6" rx="0.6"/><text x="85.80" y="326.70" font-size="3.8" fill="#c020c0" text-anchor="start" font-weight="normal" textLength="28.4" lengthAdjust="spacingAndGlyphs">BB 3t 3t B    5000</text><line x1="478.00" y1="405.00" x2="547.00" y2="405.00" stroke="#e040e0" stroke-width="1.4" /><circle cx="478.00" cy="405.00" r="1.5" fill="#e040e0"/><circle cx="547.00" cy="405.00" r="1.5" fill="#e040e0"/><rect x="496.00" y="398.80" width="32.00" height="6.20" fill="#fbe6fb" stroke="#e040e0" stroke-width="0.6" rx="0.6"/><text x="498.00" y="403.50" font-size="3.8" fill="#c020c0" text-anchor="start" font-weight="normal" textLength="28.0" lengthAdjust="spacingAndGlyphs">BB 3t 3t B    5000</text><rect x="362.50" y="177.00" width="19.70" height="6.40" fill="#fdfcda" stroke="#262626" stroke-width="1.1" rx="0.6"/><text x="364.50" y="181.80" font-size="4.2" fill="#2a2a2a" text-anchor="start" font-weight="normal" textLength="15.7" lengthAdjust="spacingAndGlyphs">5/1:J/U -</text><polyline points="382.20,180.20 395.80,180.20 418.00,157.50" stroke="#2a2a2a" stroke-width="1" fill="none" /><path d="M418.00,157.50 L416.01,162.54 L413.00,159.61 Z" fill="#2a2a2a"/><polyline points="362.50,166.50 364.80,166.50 374.00,157.20" stroke="#2a2a2a" stroke-width="1" fill="none" /><path d="M374.00,157.20 L371.98,162.23 L368.99,159.28 Z" fill="#2a2a2a"/><rect x="405.00" y="175.60" width="10.60" height="3.80" fill="#4848c8" stroke="#3030b0" stroke-width="0.6" /><rect x="438.00" y="185.00" width="25.00" height="4.40" fill="#4848c8" stroke="#3030b0" stroke-width="0.6" /><text x="439.00" y="188.40" font-size="3.6" fill="#fff" text-anchor="start" font-weight="normal" textLength="23" lengthAdjust="spacingAndGlyphs">1000000AK 700</text><rect x="484.40" y="175.60" width="10.40" height="3.80" fill="#fff" stroke="#3030c0" stroke-width="0.9" /><line x1="420.60" y1="158.00" x2="420.60" y2="216.00" stroke="#3a3ad0" stroke-width="1" stroke-dasharray="3 1.5"/><line x1="420.60" y1="167.30" x2="478.00" y2="167.30" stroke="#3a3ad0" stroke-width="1.1" /><circle cx="420.60" cy="167.30" r="1.6" fill="#3030c0"/><circle cx="478.00" cy="167.30" r="1.4" fill="#3030c0"/><text x="432.50" y="166.30" font-size="4.2" fill="#3a3ad0" text-anchor="start" font-weight="normal" textLength="30" lengthAdjust="spacingAndGlyphs">5920  BB 3t (DB)</text><line x1="420.60" y1="209.40" x2="478.00" y2="209.40" stroke="#e040e0" stroke-width="1.2" /><circle cx="420.60" cy="209.40" r="1.5" fill="#e040e0"/><circle cx="478.00" cy="209.40" r="1.5" fill="#e040e0"/><text x="448.00" y="206.00" font-size="4" fill="#e040e0" text-anchor="middle" font-weight="normal" >5150</text><line x1="362.00" y1="215.60" x2="420.00" y2="215.60" stroke="#e09060" stroke-width="1" stroke-dasharray="6 2 1 2"/><line x1="478.50" y1="157.00" x2="478.50" y2="216.00" stroke="#c08060" stroke-width="1" stroke-dasharray="3 2"/><line x1="483.00" y1="140.00" x2="483.00" y2="215.00" stroke="#e040e0" stroke-width="1.2" /><line x1="482.50" y1="215.00" x2="482.50" y2="292.00" stroke="#f090f0" stroke-width="1.6" /><line x1="480.80" y1="252.50" x2="483.80" y2="252.50" stroke="#e040e0" stroke-width="1.1" /><line x1="480.80" y1="259.50" x2="483.80" y2="259.50" stroke="#e040e0" stroke-width="1.1" /><line x1="480.80" y1="266.00" x2="483.80" y2="266.00" stroke="#e040e0" stroke-width="1.1" /><line x1="480.80" y1="272.50" x2="483.80" y2="272.50" stroke="#e040e0" stroke-width="1.1" /><line x1="480.80" y1="279.00" x2="483.80" y2="279.00" stroke="#e040e0" stroke-width="1.1" /><line x1="480.80" y1="285.50" x2="483.80" y2="285.50" stroke="#e040e0" stroke-width="1.1" /><line x1="491.20" y1="140.30" x2="491.20" y2="215.00" stroke="#e040e0" stroke-width="1.2" /><line x1="479.50" y1="140.30" x2="492.00" y2="140.30" stroke="#e040e0" stroke-width="1.2" /><line x1="478.00" y1="157.00" x2="492.00" y2="157.00" stroke="#e040e0" stroke-width="1.4" /><line x1="478.00" y1="215.00" x2="492.00" y2="215.00" stroke="#e040e0" stroke-width="1.2" /><line x1="480.00" y1="140.30" x2="480.00" y2="157.00" stroke="#f0a0f0" stroke-width="0.8" /><circle cx="491.20" cy="140.30" r="1.5" fill="#e040e0"/><circle cx="491.20" cy="157.00" r="1.5" fill="#e040e0"/><circle cx="491.20" cy="215.00" r="1.5" fill="#e040e0"/><text x="0" y="0" font-size="3.6" fill="#f080f0" transform="translate(488.5,148.5) rotate(-90)" text-anchor="middle">1500</text><text x="0" y="0" font-size="3.6" fill="#f080f0" transform="translate(488.5,192) rotate(-90)" text-anchor="middle">2600</text><line x1="465.00" y1="155.00" x2="465.00" y2="162.00" stroke="#e040e0" stroke-width="1" /><circle cx="465.00" cy="160.00" r="1.5" fill="#e040e0"/><path d="M496.3,185.3 L505,181.2 L505,190 Z" fill="#ee1111"/><line x1="305.30" y1="42.90" x2="487.00" y2="42.90" stroke="#4040d8" stroke-width="1.4" /><circle cx="305.30" cy="42.90" r="1.8" fill="#2020c0"/><circle cx="477.50" cy="42.90" r="1.8" fill="#2020c0"/><line x1="305.30" y1="42.90" x2="305.30" y2="57.00" stroke="#4040d8" stroke-width="1" /><line x1="477.50" y1="42.90" x2="477.50" y2="57.00" stroke="#4040d8" stroke-width="1.2" /><text x="367.00" y="41.20" font-size="4.8" fill="#2a2ab0" text-anchor="start" font-weight="normal" >14993</text><text x="386.00" y="41.20" font-size="4.8" fill="#2a2ab0" text-anchor="start" font-weight="bold" textLength="29" lengthAdjust="spacingAndGlyphs">BB BB 3t L BB 3t</text><text x="483.50" y="41.00" font-size="4.5" fill="#6a6ae0" text-anchor="start" font-weight="normal" >103</text><path d="M481.5,42.9 L489.5,42.9 Q492.5,40 491,36.5" fill="none" stroke="#8080e8" stroke-width="0.8"/><text x="300.00" y="53.00" font-size="4" fill="#888" text-anchor="start" font-weight="normal" >24650</text><text x="221.00" y="106.80" font-size="4.6" fill="#3030c0" text-anchor="middle" font-weight="normal" textLength="24" lengthAdjust="spacingAndGlyphs">AS BB 3t 5t 7t</text><text x="221.00" y="115.20" font-size="4.6" fill="#444" text-anchor="middle" font-weight="normal" textLength="32" lengthAdjust="spacingAndGlyphs">A BB 3t 3t 7t 3t 3t 5t</text><text x="391.00" y="101.50" font-size="4.6" fill="#3030c0" text-anchor="middle" font-weight="normal" textLength="24" lengthAdjust="spacingAndGlyphs">AS BB 3t 7t 5t</text><text x="391.00" y="108.00" font-size="3.8" fill="#3030c0" text-anchor="middle" font-weight="normal" >6915</text><line x1="362.70" y1="110.30" x2="419.50" y2="110.30" stroke="#38388c" stroke-width="1.1" /><circle cx="362.70" cy="110.30" r="1.7" fill="#2020c0"/><circle cx="419.50" cy="110.30" r="1.7" fill="#2020c0"/><text x="273.00" y="439.20" font-size="4" fill="#4a4a4a" text-anchor="start" font-weight="normal" textLength="65" lengthAdjust="spacingAndGlyphs">24400  3t -- 3t -- 3t BB 3t 3t BB (9730)</text><text x="0" y="0" font-size="4.2" fill="#777" transform="translate(132.6,108.5) rotate(-90)" text-anchor="middle">5000</text><text x="0" y="0" font-size="4.2" fill="#777" transform="translate(132.6,297) rotate(-90)" text-anchor="middle">11955</text><text x="0" y="0" font-size="4.2" fill="#777" transform="translate(482.2,327.5) rotate(90)" text-anchor="middle" textLength="60" lengthAdjust="spacingAndGlyphs">B5 BB 3t - 3t BB 3t 3t 3t 15 3t 3t</text><path d="M470.5,62 L475,56.5 L477.5,56.5 L477.5,58.5 L473.5,62.5 Z" fill="#2a2ae0"/><line x1="449.80" y1="57.00" x2="449.80" y2="64.00" stroke="#5050d0" stroke-width="1" /><circle cx="463.60" cy="72.30" r="0.9" fill="#222"/><line x1="478.60" y1="57.00" x2="478.60" y2="157.00" stroke="#e89090" stroke-width="1" stroke-dasharray="3 1.5"/><text x="0" y="0" font-size="4" fill="#888" transform="translate(483,106) rotate(90)" text-anchor="middle">2000</text><rect x="462.00" y="145.00" width="5.00" height="6.00" fill="#f0c040" stroke="#e0a030" stroke-width="0.5" /><path d="M464,153 L472,144 L476,144 L468,153 Z" fill="#ee6a2a"/><rect x="463.00" y="153.80" width="15.00" height="2.00" fill="#f07858" stroke="none" stroke-width="1" /><line x1="478.00" y1="141.00" x2="478.00" y2="157.00" stroke="#333" stroke-width="1.2" /><line x1="193.30" y1="376.00" x2="193.30" y2="434.00" stroke="#555" stroke-width="1" stroke-dasharray="6 2"/><g transform="translate(156.2,403.6) scale(0.3600,0.3900)"><path d="M1,1.2 H8.2 Q7.2,5.5 1,9.2 M5,6 L9.2,9.2" fill="none" stroke="#222" stroke-width="0.9" vector-effect="non-scaling-stroke" stroke-linecap="square"/></g><g transform="translate(160.14999999999998,403.6) scale(0.3600,0.3900)"><path d="M1.5,1.5 H8.5 V8.8 H1.5 Z" fill="none" stroke="#222" stroke-width="0.9" vector-effect="non-scaling-stroke" stroke-linecap="square"/></g><g transform="translate(164.1,403.6) scale(0.3600,0.3900)"><path d="M0.3,5 H9.7" fill="none" stroke="#222" stroke-width="0.9" vector-effect="non-scaling-stroke" stroke-linecap="square"/></g><g transform="translate(168.04999999999998,403.6) scale(0.3600,0.3900)"><path d="M0.8,1.8 H7.6 Q7.2,6.5 2.6,9.6 M8.7,0.6 L9.6,1.5 L8.7,2.4 L7.8,1.5 Z" fill="none" stroke="#222" stroke-width="0.9" vector-effect="non-scaling-stroke" stroke-linecap="square"/></g><line x1="135.00" y1="434.30" x2="478.00" y2="434.30" stroke="#222" stroke-width="2" /><circle cx="135.00" cy="434.50" r="1.8" fill="#000"/></svg>
</body></html>
